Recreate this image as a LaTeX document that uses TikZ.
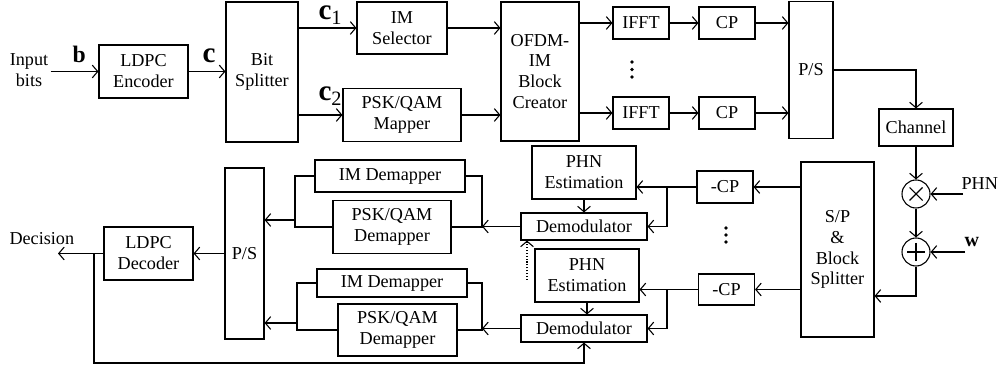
\documentclass[tikz,border=0pt]{standalone}
\usepackage{fontspec}
\setmainfont{Liberation Serif}
\usetikzlibrary{arrows.meta}
\tikzset{dims/.style 2 args={minimum width=#1*0.55pt,minimum height=#2*0.55pt}}

\begin{document}
\begin{tikzpicture}[
    x=0.55pt,y=-0.55pt,line width=0.6pt,
    blk/.style={draw,align=center,inner sep=1pt,font=\fontsize{10}{11.5}\selectfont},
    sum/.style={draw,circle,minimum size=15.4pt,inner sep=0pt},
    txt/.style={align=center,inner sep=1pt,font=\fontsize{10}{11.5}\selectfont},
    sym/.style={inner sep=0pt,font=\bfseries\fontsize{16}{16}\selectfont},
    flow/.style={-{Straight Barb[length=3pt,width=7pt]}}
  ]
    \useasboundingbox (0,0) rectangle (998,373);
    % transmitter
    \node[txt] (inbits) at (29,70) {Input\\bits};
    \node[blk,dims={89}{53}] (enc) at (143.5,71.5) {LDPC\\Encoder};
    \node[blk,dims={72}{140}] (split) at (262,72) {Bit\\Splitter};
    \node[blk,dims={90}{52}] (imsel) at (402,28) {IM\\Selector};
    \node[blk,dims={118}{53}] (mapper) at (402,115) {PSK/QAM\\Mapper};
    \node[blk,dims={78}{139}] (creator) at (540,71.5) {OFDM-\\IM\\Block\\Creator};
    \node[blk,dims={56}{32}] (ifftA) at (641,23) {IFFT};
    \node[blk,dims={56}{32}] (ifftB) at (641,113) {IFFT};
    \node[blk,dims={56}{32}] (cpA) at (727,23) {CP};
    \node[blk,dims={56}{32}] (cpB) at (727,113) {CP};
    \node[blk,dims={44}{137}] (ps) at (811,70) {P/S};
    \node[blk,dims={74}{37}] (chan) at (916,127.5) {Channel};
    \node[sum] (mul) at (916,194) {};
    \node[sum] (add) at (916,252) {};
    \foreach \yy in {62,69.5,77} \fill (632,\yy) circle (1.8);
    % labels
    \node[txt,inner sep=0pt,anchor=base west,font=\bfseries\fontsize{13}{13}\selectfont] (lb) at (72,63) {b};
    \node[sym,anchor=base west] (lc) at (202,63) {c};
    \node[sym,anchor=base west] (lc1) at (318,20) {c\textsubscript{\mdseries 1}};
    \node[sym,anchor=base west] (lc2) at (318,101) {c\textsubscript{\mdseries 2}};
    \coordinate (phnin) at (963,194);
    \coordinate (win) at (965,252);
    \node[txt,inner sep=0pt,anchor=base west] (lphn) at (961,190) {PHN};
    \node[txt,inner sep=0pt,anchor=base west,font=\bfseries\fontsize{11}{11}\selectfont] (lw) at (964,247) {w};
    % receiver
    \node[blk,dims={73}{175}] (sp) at (837.5,249.5) {S/P\\\&\\Block\\Splitter};
    \node[blk,dims={56}{32}] (rcpA) at (725,187) {-CP};
    \node[blk,dims={56}{31}] (rcpB) at (726.5,289.5) {-CP};
    \foreach \yy in {228,235,242} \fill (726,\yy) circle (1.8);
    \node[blk,dims={104}{53}] (estA) at (584,172.5) {PHN\\Estimation};
    \node[blk,dims={126}{27}] (demA) at (584,226.5) {Demodulator};
    \node[blk,dims={104}{53}] (estB) at (587,275.5) {PHN\\Estimation};
    \node[blk,dims={126}{27}] (demB) at (584,328.5) {Demodulator};
    \node[blk,dims={150}{32}] (imdA) at (390,176) {IM Demapper};
    \node[blk,dims={118}{53}] (pskdA) at (392,227) {PSK/QAM\\Demapper};
    \node[blk,dims={150}{28}] (imdB) at (392,283) {IM Demapper};
    \node[blk,dims={119}{52}] (pskdB) at (397.5,330) {PSK/QAM\\Demapper};
    \node[blk,dims={39}{171}] (psr) at (244.5,253.5) {P/S};
    \node[blk,dims={89}{53}] (dec) at (148.5,253.5) {LDPC\\Decoder};
    \node[txt,inner sep=0pt,anchor=base west] (ldec) at (9,245) {Decision};
    % mixer symbols
    \draw (mul) ++(-6.5,-6.5) -- ++(13,13);
    \draw (mul) ++(-6.5,6.5) -- ++(13,-13);
    \draw (add) ++(-9,0) -- ++(18,0);
    \draw (add) ++(0,-9) -- ++(0,18);
    % transmitter flow
    \draw[flow] (inbits.east |- enc.west) -- (enc.west);
    \draw[flow] (enc.east) -- (split.west |- enc.east);
    \draw[flow] (split.east |- imsel.west) -- (imsel.west);
    \draw[flow] (split.east |- mapper.west) -- (mapper.west);
    \draw[flow] (imsel.east) -- (creator.west |- imsel.east);
    \draw[flow] (mapper.east) -- (creator.west |- mapper.east);
    \draw[flow] (creator.east |- ifftA) -- (ifftA);
    \draw[flow] (creator.east |- ifftB) -- (ifftB);
    \draw[flow] (ifftA) -- (cpA);
    \draw[flow] (ifftB) -- (cpB);
    \draw[flow] (cpA) -- (ps.west |- cpA);
    \draw[flow] (cpB) -- (ps.west |- cpB);
    \draw[flow] (ps.east) -| (chan.north);
    \draw[flow] (chan) -- (mul);
    \draw[flow] (mul) -- (add);
    \draw[flow] (phnin) -- (mul);
    \draw[flow] (win) -- (add);
    \draw[flow] (add.south) |- (sp.east |- 0,296);
    % receiver flow
    \coordinate (brA) at (667,187);
    \coordinate (brB) at (667,289.5);
    \coordinate (jA) at (482,226.5);
    \coordinate (jB) at (482,328.5);
    \coordinate (kA) at (295,227);
    \coordinate (kB) at (297,330);
    \coordinate (oA) at (295,220);
    \coordinate (oB) at (297,323);
    \draw[flow] (sp.west |- rcpA) -- (rcpA);
    \draw[flow] (sp.west |- rcpB) -- (rcpB);
    \draw[flow] (rcpA.west) -- (estA.east |- rcpA);
    \draw[flow] (rcpB.west) -- (estB.east |- rcpB);
    \draw[flow] (brA) |- (demA.east);
    \draw[flow] (brB) |- (demB.east);
    \draw[flow] (estA.south) -- (estA.south |- demA.north);
    \draw[flow] (estB.south) -- (estB.south |- demB.north);
    \draw[flow] (demA.west) -- (jA);
    \draw[flow] (demB.west) -- (jB);
    \draw (imdA.east) -| (jA) |- (pskdA.east);
    \draw (imdB.east) -| (jB) |- (pskdB.east);
    \draw (imdA.west) -| (kA) -- (pskdA.west);
    \draw (imdB.west) -| (kB) -- (pskdB.west);
    \draw[flow] (oA) -- (psr.east |- oA);
    \draw[flow] (oB) -- (psr.east |- oB);
    \draw[flow] (psr.west |- dec) -- (dec);
    \coordinate (out) at (58,253.5);
    \coordinate (fb) at (94,253.5);
    \draw[flow] (dec.west) -- (out);
    \draw[flow] (fb) |- (demB.south |- 0,363) -- (demB.south);
    \coordinate (dotS) at (527,280);
    \draw[flow,densely dotted] (dotS) -- (dotS |- demA.south);
  \end{tikzpicture}
\end{document}
